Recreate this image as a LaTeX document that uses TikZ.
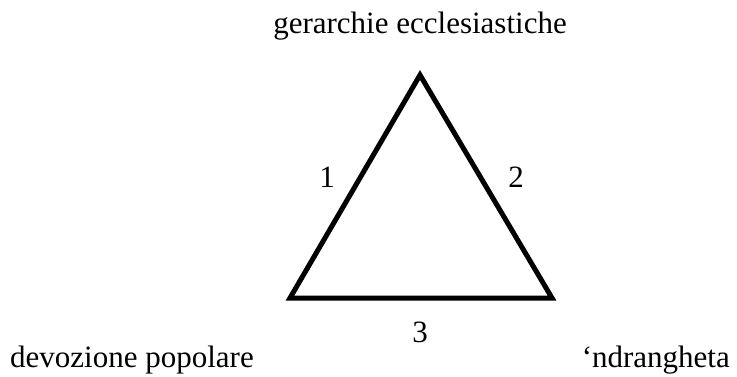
\documentclass[tikz,border=0pt]{standalone}
\usepackage{fontspec}
\setmainfont{Liberation Serif}
\begin{document}
\begin{tikzpicture}[x=1pt,y=-1pt,
  lbl/.style={anchor=base,inner sep=0pt,font=\fontsize{31}{36}\selectfont},
  edge/.style={line width=5pt,line join=miter}]
\useasboundingbox (0,0) rectangle (737,377);
\coordinate (top) at (420,75);
\coordinate (bl) at (290,298);
\coordinate (br) at (552,298);
\draw[edge] (top) -- (bl) -- (br) -- cycle;
\node[lbl] (g) at (420,34) {gerarchie ecclesiastiche};
\node[lbl,anchor=base west] (d) at (10,367) {devozione popolare};
\node[lbl,anchor=base east] (n) at (730,367) {‘ndrangheta};
\node[lbl] (l1) at (327,188) {1};
\node[lbl] (l2) at (516,188) {2};
\node[lbl] (l3) at (420,342) {3};
\end{tikzpicture}
\end{document}
